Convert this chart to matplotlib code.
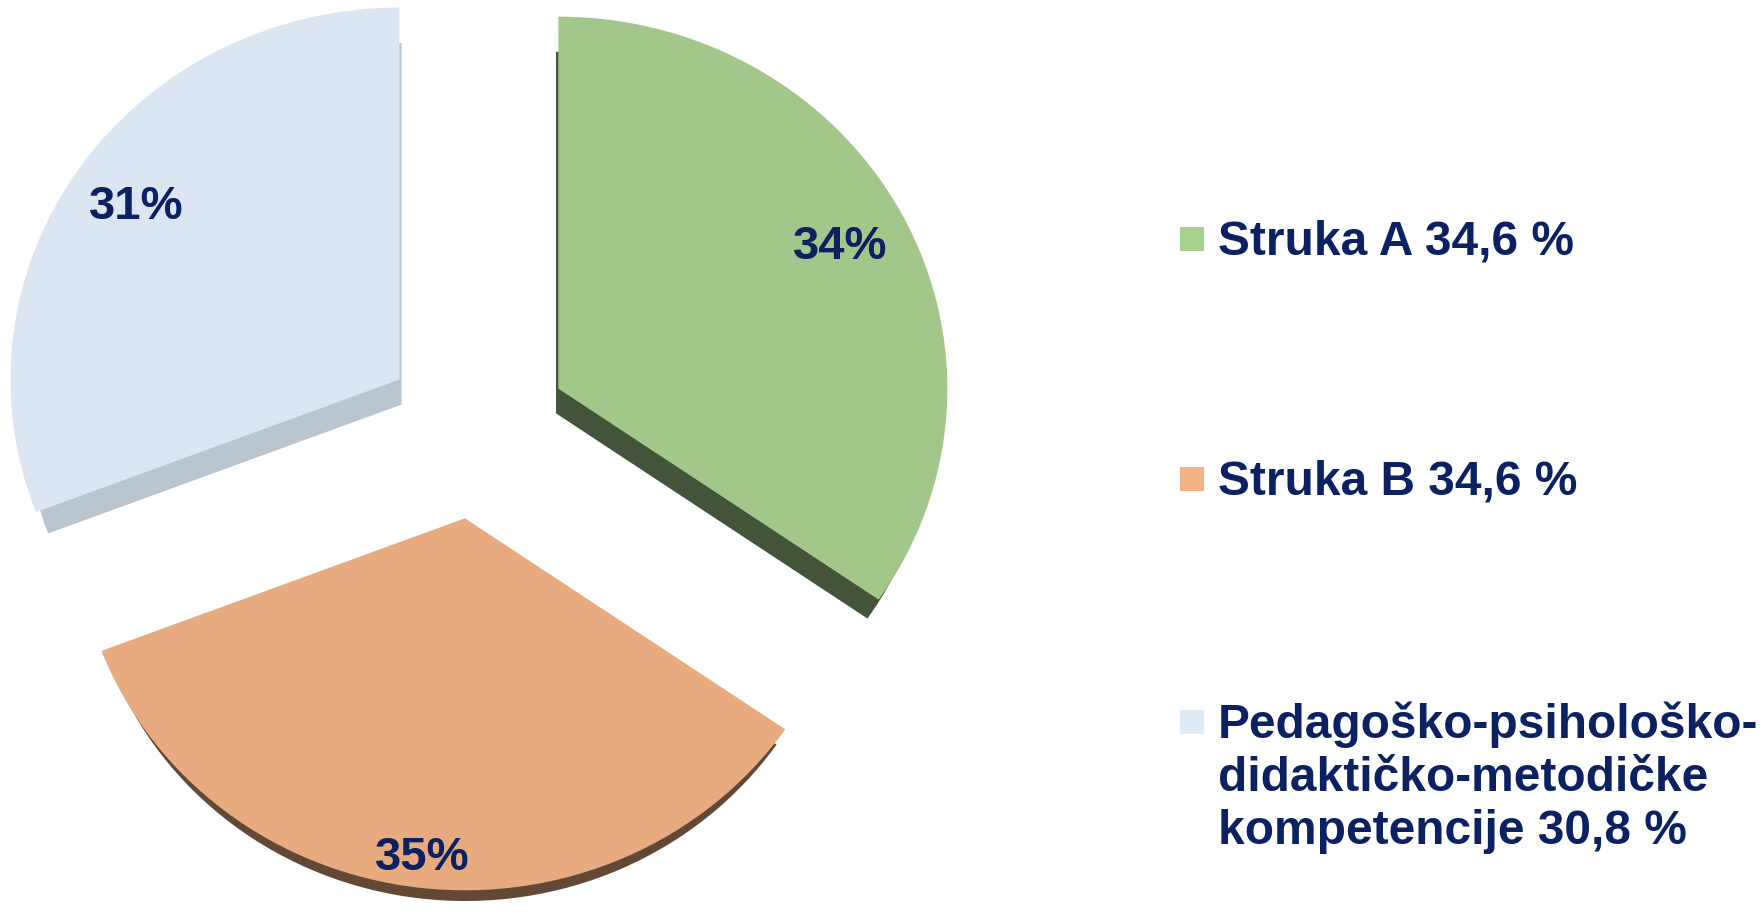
import math
import matplotlib
matplotlib.use("Agg")
import matplotlib.pyplot as plt
from matplotlib.patches import Rectangle

# -------------------------
# Data
# -------------------------
categories = ["Struka A", "Struka B",
              "Pedagoško-psihološko-\ndidaktičko-metodičke\nkompetencije"]
values = [34.6, 34.6, 30.8]
value_labels = ["34,6 %", "34,6 %", "30,8 %"]
pct_labels = ["34%", "35%", "31%"]

top_colors = ["#A3C78A", "#E8AA7F", "#DCE6F2"]
side_colors = ["#43543A", "#634935", "#B9C5CF"]
legend_colors = ["#A9D18E", "#F4B183", "#DEEBF7"]
navy = "#0B2161"

# -------------------------
# Figure / axes in pixel-like units
# -------------------------
W, H = 1765, 915
fig = plt.figure(figsize=(W / 100, H / 100), dpi=100)
ax = fig.add_axes([0, 0, 1, 1])

rx = 389.0
ry = 372.0
yscale = ry / rx          # pixels per y data unit

def to_data_y(py):
    return (H - py) / yscale

cx, cy = 476, to_data_y(430)
expl = 93.0

# fake 3d: side is the top face shrunk toward a vanishing point below
s = 0.972
vx, vy = 476, to_data_y(1273)
scx = vx + s * (cx - vx)
scy = vy + s * (cy - vy)

ax.pie(values, explode=[expl * s] * 3, colors=side_colors, startangle=90,
       counterclock=False, radius=rx * s, center=(scx, scy),
       wedgeprops=dict(linewidth=0), frame=True)

wedges, texts = ax.pie(values, explode=[expl] * 3, colors=top_colors,
                       startangle=90, counterclock=False, radius=rx,
                       center=(cx, cy), labels=pct_labels,
                       wedgeprops=dict(linewidth=0), frame=True)

# label distance per slice (perspective pushes the lower one further out)
label_dist = [0.82, 0.92, 0.82]
for w, t, d in zip(wedges, texts, label_dist):
    mid = math.radians((w.theta1 + w.theta2) / 2)
    t.set_position((w.center[0] + d * w.r * math.cos(mid),
                    w.center[1] + d * w.r * math.sin(mid)))
    t.set_ha("center")
    t.set_va("center")
    t.set_color(navy)
    t.set_fontsize(34)
    t.set_fontweight("bold")
    t.set_family("Liberation Sans")

ax.set_xlim(0, W)
ax.set_ylim(0, H / yscale)
ax.set_aspect("auto")
ax.axis("off")

# -------------------------
# Legend (manual, marker sits on first line)
# -------------------------
leg_base = [254, 494, 737]   # baseline of first line, px from top
pitch = 53.5
for cat, val, col, yb in zip(categories, value_labels, legend_colors, leg_base):
    label = f"{cat} {val}"
    nlines = label.count("\n")
    yc = yb - 15
    fig.patches.append(Rectangle((1180 / W, 1 - (yc + 12) / H), 24 / W, 24 / H,
                                 transform=fig.transFigure, facecolor=col,
                                 edgecolor="none"))
    # baseline alignment of multi-line text anchors the last line
    fig.text(1218 / W, 1 - (yb + nlines * pitch) / H, label,
             ha="left", va="baseline", color=navy, fontsize=34.5,
             fontweight="bold", family="Liberation Sans", linespacing=1.23)

fig.savefig("out.png", dpi=100)
